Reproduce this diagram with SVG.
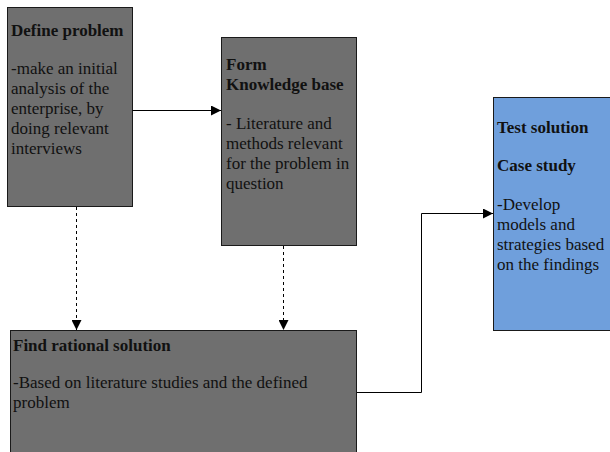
<svg xmlns="http://www.w3.org/2000/svg" width="610" height="452" viewBox="0 0 610 452">
  <style>
    .box { fill: #6f6f6f; stroke: #1a1a1a; stroke-width: 1; }
    .blue { fill: #6f9fdc; stroke: #1a1a1a; stroke-width: 1; }
    text { font-family: "Liberation Serif", "Times New Roman", serif; font-size: 17px; fill: #111; }
    .title { font-weight: bold; }
    .link { fill: none; stroke: #000; stroke-width: 1; }
    .dash { stroke-dasharray: 3 3; }
  </style>
  <defs>
    <marker id="arrow" viewBox="0 0 10 10" refX="10" refY="5" markerWidth="10" markerHeight="10" markerUnits="userSpaceOnUse" orient="auto">
      <path d="M0,0 L10,5 L0,10 z" fill="#000"/>
    </marker>
  </defs>

  <g id="define-problem">
    <rect class="box" x="7.5" y="7.5" width="125" height="199"/>
    <text class="title" x="11" y="36">Define problem</text>
    <text x="11" y="74">-make an initial</text>
    <text x="11" y="94">analysis of the</text>
    <text x="11" y="114">enterprise, by</text>
    <text x="11" y="134">doing relevant</text>
    <text x="11" y="154">interviews</text>
  </g>

  <g id="knowledge-base">
    <rect class="box" x="221.5" y="37.5" width="135" height="208"/>
    <text class="title" x="226" y="70">Form</text>
    <text class="title" x="226" y="90">Knowledge base</text>
    <text x="226" y="129">- Literature and</text>
    <text x="226" y="149">methods relevant</text>
    <text x="226" y="169">for the problem in</text>
    <text x="226" y="189">question</text>
  </g>

  <g id="test-solution">
    <rect class="blue" x="493.5" y="97.5" width="120" height="233"/>
    <text class="title" x="497" y="133">Test solution</text>
    <text class="title" x="497" y="171">Case study</text>
    <text x="497" y="210">-Develop</text>
    <text x="497" y="230">models and</text>
    <text x="497" y="250">strategies based</text>
    <text x="497" y="270">on the findings</text>
  </g>

  <g id="rational-solution">
    <rect class="box" x="10.5" y="330.5" width="346" height="130"/>
    <text class="title" x="13" y="351">Find rational solution</text>
    <text x="13" y="388">-Based on literature studies and the defined</text>
    <text x="13" y="408">problem</text>
  </g>

  <g id="connectors">
    <path class="link" d="M132.5,110.5 H221" marker-end="url(#arrow)"/>
    <path class="link dash" d="M76.5,207 V330" marker-end="url(#arrow)"/>
    <path class="link dash" d="M283.5,246 V330" marker-end="url(#arrow)"/>
    <path class="link" d="M357,392.5 H421.5 V213.5 H493" marker-end="url(#arrow)"/>
  </g>
</svg>
